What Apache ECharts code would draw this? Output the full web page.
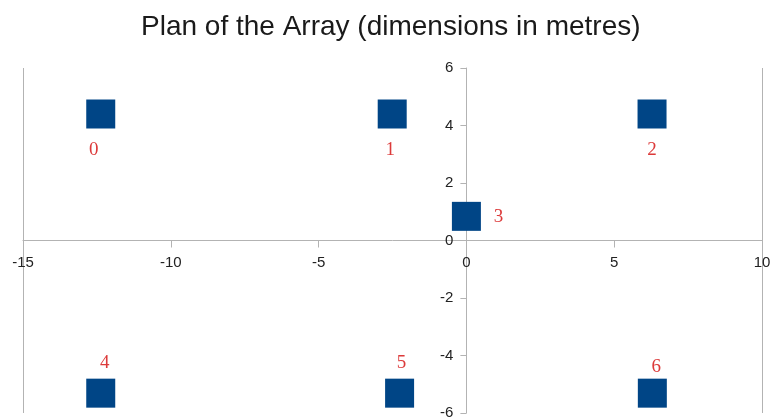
<!DOCTYPE html>
<html>
<head>
<meta charset="utf-8">
<script src="https://cdn.jsdelivr.net/npm/echarts@6/dist/echarts.min.js"></script>
<style>
    html, body { margin: 0; padding: 0; background: #fff; }
    #chart { width: 771px; height: 418px; }
</style>
</head>
<body>
<div id="chart"></div>
<script>
// array element numbers and their plan positions (metres)
const pointNames = ['0', '1', '2', '3', '4', '5', '6']
const xValues = [-12.37, -2.51, 6.28, 0.0, -12.37, -2.26, 6.29]
const yValues = [4.40, 4.40, 4.40, 0.84, -5.31, -5.31, -5.31]

// label placement per point (style only)
const labelOffsets = [[-7, 36], [-2, 36], [0, 36], [32, 1], [4, -30], [2, -30], [4, -26]]

const chart = echarts.init(document.getElementById('chart'))

const axisColor = '#b3b3b3'
const labelStyle = {
    color: '#222',
    fontSize: 15,
    fontFamily: 'Liberation Sans'
}

const seriesData = pointNames.map((name, i) => ({
    name: name,
    value: [xValues[i], yValues[i]],
    label: { offset: labelOffsets[i] }
}))

const option = {
    animation: false,
    title: {
        text: 'Plan of the Array (dimensions in metres)',
        left: 136,
        top: 8,
        textStyle: {
            color: '#1a1a1a',
            fontSize: 28,
            fontWeight: 'normal',
            fontFamily: 'Liberation Sans'
        }
    },
    grid: {
        left: 23,
        right: 9,
        top: 68,
        bottom: 5,
        containLabel: false,
        outerBoundsMode: 'none'
    },
    xAxis: [{
        type: 'value',
        min: -15,
        max: 10,
        interval: 5,
        position: 'bottom',
        axisLine: {
            onZero: false,
            lineStyle: { color: axisColor, width: 1 }
        },
        axisTick: {
            show: true,
            length: 7,
            lineStyle: { color: axisColor }
        },
        axisLabel: Object.assign({
            margin: 15,
            showMinLabel: true,
            showMaxLabel: true
        }, labelStyle),
        splitLine: { show: false }
    }, {
        // only used to draw the two vertical edge lines
        type: 'value',
        position: 'top',
        min: -15,
        max: 10,
        interval: 25,
        axisLine: { show: false },
        axisTick: { show: false },
        axisLabel: { show: false },
        splitLine: {
            show: true,
            showMinLine: true,
            showMaxLine: true,
            lineStyle: { color: axisColor, width: 1 }
        }
    }],
    yAxis: [{
        type: 'value',
        min: -6,
        max: 6,
        interval: 2,
        position: 'left',
        axisLine: {
            show: true,
            onZero: false,
            lineStyle: { color: axisColor, width: 1 }
        },
        axisTick: {
            show: true,
            length: 6,
            lineStyle: { color: axisColor }
        },
        axisLabel: Object.assign({
            margin: 13,
            showMinLabel: true,
            showMaxLabel: true
        }, labelStyle),
        splitLine: { show: false }
    }],
    series: [{
        type: 'scatter',
        xAxisIndex: 0,
        yAxisIndex: 0,
        symbol: 'rect',
        symbolSize: 29,
        itemStyle: {
            color: '#004586',
            opacity: 1
        },
        label: {
            show: true,
            position: 'inside',
            formatter: '{b}',
            color: '#dc3a3a',
            fontSize: 19,
            fontFamily: 'Liberation Serif'
        },
        data: seriesData
    }]
}

chart.setOption(option)

// move both axes (line, ticks and labels) so they cross at the origin
const zeroX = chart.convertToPixel({ xAxisIndex: 0 }, 0)
const leftX = chart.convertToPixel({ xAxisIndex: 0 }, -15)
const zeroY = chart.convertToPixel({ yAxisIndex: 0 }, 0)
const bottomY = chart.convertToPixel({ yAxisIndex: 0 }, -6)
chart.setOption({
    xAxis: [{ offset: -(bottomY - zeroY) }, {}],
    yAxis: [{ offset: -(zeroX - leftX) }]
})
</script>
</body>
</html>
